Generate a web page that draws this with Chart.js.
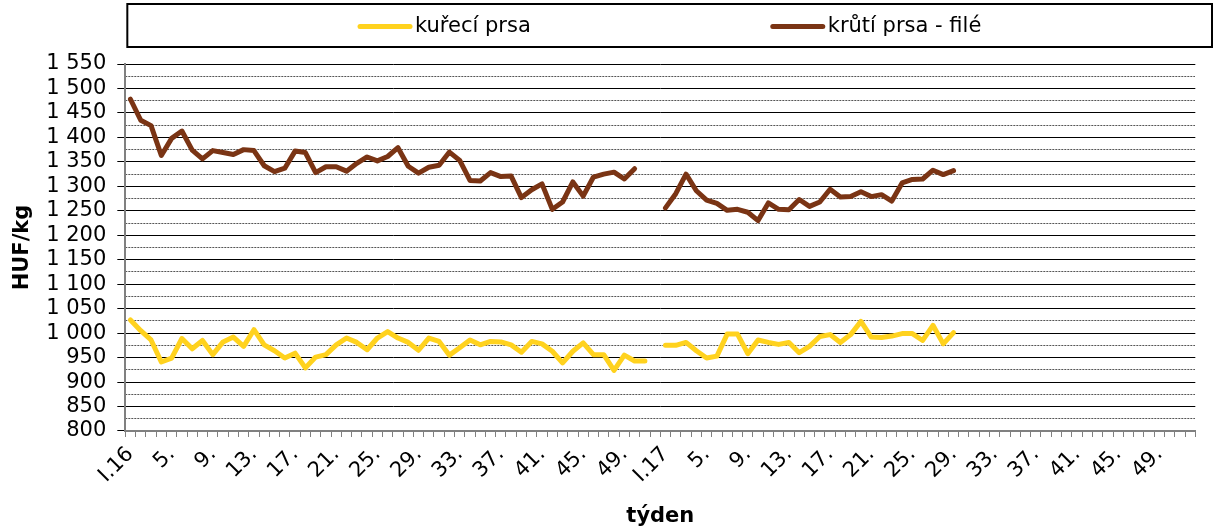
<!DOCTYPE html>
<html>
<head>
<meta charset="utf-8">
<script src="https://cdn.jsdelivr.net/npm/chart.js@4"></script>
<style>
  html, body { margin: 0; padding: 0; background: #fff; }
  #wrap { width: 1213px; height: 529px; }
</style>
</head>
<body>
<div id="wrap"><canvas id="myChart"></canvas></div>
<script>
const years = ['16', '17'];
const weeksPerYear = 52;

const seriesNames = ['kuřecí prsa', 'krůtí prsa - filé'];
const seriesColors = ['rgb(255, 210, 30)', 'rgb(122, 52, 20)'];

// HUF/kg po týdnech
const kureci2016 = [1027, 1005, 986, 941, 949, 989, 968, 985, 956, 982,
  992, 973, 1007, 976, 964, 949, 959, 929, 951, 956,
  976, 990, 981, 966, 990, 1003, 990, 981, 965, 990,
  983, 955, 970, 986, 976, 983, 982, 976, 961, 983,
  978, 963, 939, 963, 980, 956, 956, 924, 955, 943, 943];
const kureci2017 = [975, 975, 981, 964, 949, 953, 998, 998, 958, 986,
  981, 977, 981, 960, 973, 993, 997, 981, 997, 1024,
  992, 991, 994, 999, 999, 985, 1016, 978, 1001];

const kruti2016 = [1478, 1435, 1424, 1363, 1398, 1413, 1374, 1356, 1373, 1369,
  1365, 1375, 1373, 1342, 1330, 1337, 1372, 1369, 1328, 1340,
  1340, 1331, 1347, 1360, 1352, 1361, 1379, 1341, 1327, 1339,
  1343, 1370, 1353, 1312, 1311, 1328, 1320, 1321, 1277, 1293,
  1305, 1253, 1268, 1309, 1280, 1319, 1325, 1329, 1315, 1336];
const kruti2017 = [1256, 1285, 1325, 1291, 1272, 1265, 1251, 1253, 1247, 1230,
  1266, 1253, 1252, 1273, 1259, 1268, 1294, 1278, 1279, 1289,
  1279, 1283, 1270, 1307, 1314, 1315, 1333, 1324, 1332];

const yMin = 800;
const yMax = 1550;

// osa x: I.16, 2., 3. ... 52., I.17, 2. ...
const categories = [];
years.forEach(function (y) {
  for (let w = 1; w <= weeksPerYear; w++) {
    categories.push(w === 1 ? 'I.' + y : w + '.');
  }
});

function fillYear(values) {
  const out = values.slice();
  while (out.length < weeksPerYear) out.push(null);
  return out;
}

const kureci = fillYear(kureci2016).concat(fillYear(kureci2017));
const kruti = fillYear(kruti2016).concat(fillYear(kruti2017));

const fontName = '"DejaVu Sans", Verdana, sans-serif';
const fontSize = 21;

function thousands(v) {
  return String(v).replace(/\B(?=(\d{3})+(?!\d))/g, ' ');
}

// ramecek s legendou nahore
const legendBox = {
  id: 'legendBox',
  afterDraw(chart) {
    const ctx = chart.ctx;
    const left = chart.chartArea.left + 2;
    const right = chart.width - 1;
    const top = 4, bottom = 47;
    ctx.save();
    ctx.strokeStyle = '#000';
    ctx.lineWidth = 2;
    ctx.strokeRect(left, top, right - left, bottom - top);
    ctx.font = fontSize + 'px ' + fontName;
    ctx.textBaseline = 'middle';
    ctx.textAlign = 'left';
    const sample = 54, gap = 3, spacing = 240;
    const ds = chart.data.datasets;
    const widths = ds.map(d => sample + gap + ctx.measureText(d.label).width);
    let x = (left + right) / 2 - (widths[0] + spacing + widths[1]) / 2;
    const y = (top + bottom) / 2 + 1;
    ds.forEach(function (d, i) {
      ctx.strokeStyle = d.borderColor;
      ctx.lineWidth = 5;
      ctx.lineCap = 'round';
      ctx.beginPath();
      ctx.moveTo(x + 2, y);
      ctx.lineTo(x + sample - 2, y);
      ctx.stroke();
      ctx.fillStyle = '#000';
      ctx.fillText(d.label, x + sample + gap, y);
      x += widths[i] + spacing;
    });
    ctx.restore();
  }
};

const data = {
  labels: categories,
  datasets: [
    {
      label: seriesNames[0],
      borderColor: seriesColors[0],
      backgroundColor: seriesColors[0],
      data: kureci,
      yAxisID: 'y'
    },
    {
      label: seriesNames[1],
      borderColor: seriesColors[1],
      backgroundColor: seriesColors[1],
      data: kruti,
      yAxisID: 'y'
    }
  ]
};

const config = {
  type: 'line',
  data: data,
  options: {
    responsive: true,
    maintainAspectRatio: false,
    animation: false,
    spanGaps: false,
    elements: {
      line: { borderWidth: 5, tension: 0, borderCapStyle: 'round', borderJoinStyle: 'round' },
      point: { radius: 0, hoverRadius: 0 }
    },
    layout: { padding: { top: 64, left: 0, right: 0, bottom: 0 } },
    plugins: {
      legend: { display: false },
      tooltip: { enabled: false }
    },
    scales: {
      x: {
        offset: true,
        grid: {
          offset: true,
          drawOnChartArea: false,
          drawTicks: true,
          tickLength: 6,
          color: '#808080',
          tickColor: '#808080'
        },
        border: { display: true, color: '#808080', width: 2 },
        ticks: {
          autoSkip: false,
          maxRotation: 45,
          minRotation: 45,
          padding: 5,
          color: '#000',
          font: { family: fontName, size: fontSize },
          callback: function (val, idx) {
            return (idx % weeksPerYear) % 4 === 0 ? categories[idx] : '';
          }
        },
        title: {
          display: true,
          text: 'týden',
          color: '#000',
          font: { family: fontName, size: fontSize, weight: 'bold' },
          padding: { top: 11, bottom: 0 }
        }
      },
      y: {
        position: 'left',
        min: yMin,
        max: yMax,
        ticks: {
          autoSkip: false,
          stepSize: 50,
          maxTicksLimit: 100,
          padding: 11,
          color: '#000',
          font: { family: fontName, size: fontSize },
          callback: v => thousands(v)
        },
        grid: {
          color: '#000',
          lineWidth: 1,
          drawTicks: true,
          tickLength: 8,
          tickColor: '#000'
        },
        border: { display: true, color: '#808080', width: 2 },
        title: {
          display: true,
          text: 'HUF/kg',
          color: '#000',
          font: { family: fontName, size: fontSize, weight: 'bold' },
          padding: { top: 10, bottom: 0 }
        }
      },
      yMinor: {
        position: 'right',
        min: yMin,
        max: yMax,
        ticks: { display: false, stepSize: 25, maxTicksLimit: 100 },
        afterBuildTicks: function (axis) {
          axis.ticks = axis.ticks.filter(t => t.value % 50 !== 0);
        },
        grid: { color: '#555', lineWidth: 1, drawTicks: false },
        border: { display: false, dash: [2, 1] }
      }
    }
  },
  plugins: [legendBox]
};

var myChart = new Chart(document.getElementById('myChart'), config);
</script>
</body>
</html>
